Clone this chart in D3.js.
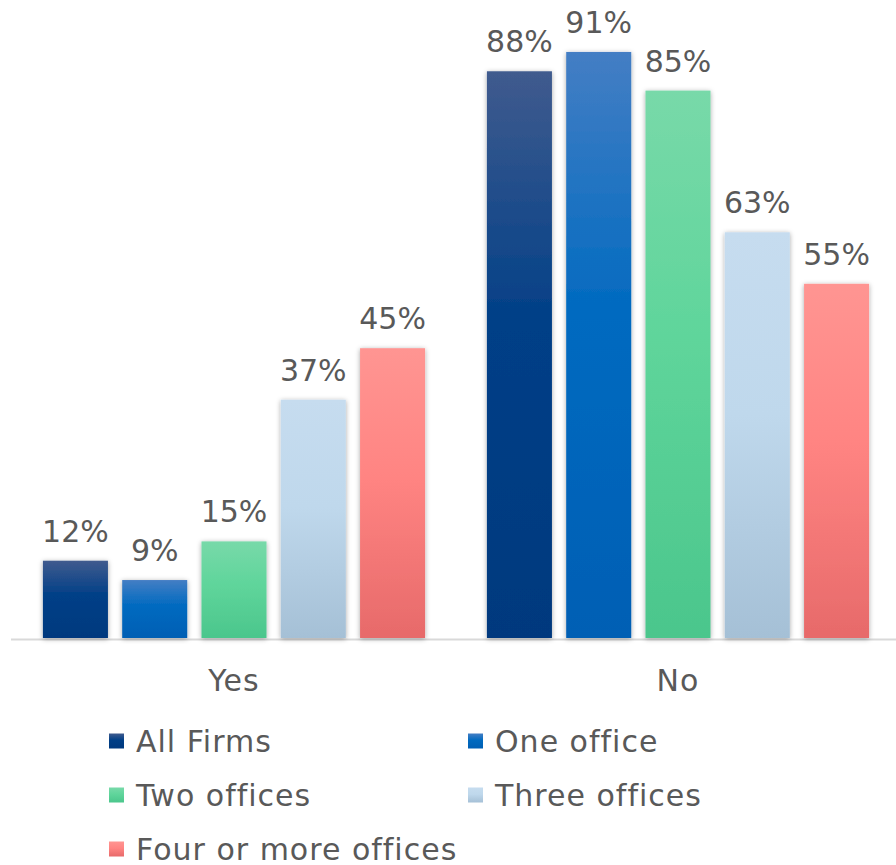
<!DOCTYPE html>
<html>
<head>
<meta charset="utf-8">
<script src="https://cdn.jsdelivr.net/npm/d3@7"></script>
<style>
  body { margin: 0; background: #fff; }
  svg { display: block; font-family: 'DejaVu Sans', sans-serif; }
</style>
</head>
<body>
<svg width="896" height="865"></svg>
<script>
// answers on the x axis, office groups as series
var answers = ['Yes', 'No'];
var series = ['All Firms', 'One office', 'Two offices', 'Three offices', 'Four or more offices'];
var yesValues = [12, 9, 15, 37, 45];
var noValues = [88, 91, 85, 63, 55];

// gradient stops per series: top, middle, bottom
var gradTop = ['#405b8e', '#447ec4', '#78d9a9', '#c6dcef', '#ff9592'];
var gradMid = ['#003f87', '#006ac0', '#5fd59b', '#bfd8ec', '#ff8482'];
var gradBot = ['#00397e', '#005fb4', '#4bc68c', '#a5c0d6', '#e76a6a'];

var svg = d3.select('svg');
var textColor = '#595959';

var rows = answers.map(function (a, i) {
  var vals = i === 0 ? yesValues : noValues;
  return { answer: a, values: series.map(function (s, j) { return { key: s, idx: j, value: vals[j] }; }) };
});

var x0 = d3.scaleBand().domain(answers).range([12, 900]);
var x1 = d3.scaleBand().domain(series).range([0, x0.bandwidth()])
  .paddingInner(0.18).paddingOuter(0.39);
var y = d3.scaleLinear().domain([0, 100]).range([638, -6]);

var defs = svg.append('defs');
var shadow = defs.append('filter').attr('id', 'shadow')
  .attr('x', '-20%').attr('y', '-10%').attr('width', '140%').attr('height', '120%');
shadow.append('feDropShadow').attr('dx', 0).attr('dy', 1).attr('stdDeviation', 2.5)
  .attr('flood-color', '#000').attr('flood-opacity', 0.35);

series.forEach(function (s, i) {
  var g = defs.append('linearGradient').attr('id', 'grad' + i)
    .attr('x1', 0).attr('y1', 0).attr('x2', 0).attr('y2', 1);
  g.append('stop').attr('offset', '0%').attr('stop-color', gradTop[i]);
  g.append('stop').attr('offset', '45%').attr('stop-color', gradMid[i]);
  g.append('stop').attr('offset', '100%').attr('stop-color', gradBot[i]);
});

// baseline
svg.append('line')
  .attr('x1', 11).attr('x2', 896)
  .attr('y1', 639.5).attr('y2', 639.5)
  .attr('stroke', '#d9d9d9').attr('stroke-width', 2);

var groups = svg.selectAll('g.group').data(rows)
  .enter().append('g')
    .attr('class', 'group')
    .attr('transform', function (d) { return 'translate(' + x0(d.answer) + ',0)'; });

groups.selectAll('rect').data(function (d) { return d.values; })
  .enter().append('rect')
    .attr('x', function (d) { return x1(d.key); })
    .attr('y', function (d) { return y(d.value); })
    .attr('width', x1.bandwidth())
    .attr('height', function (d) { return y(0) - y(d.value); })
    .attr('fill', function (d) { return 'url(#grad' + d.idx + ')'; })
    .attr('filter', 'url(#shadow)');

groups.selectAll('text.val').data(function (d) { return d.values; })
  .enter().append('text')
    .attr('class', 'val')
    .attr('x', function (d) { return x1(d.key) + x1.bandwidth() / 2; })
    .attr('y', function (d) { return y(d.value) - 19; })
    .attr('text-anchor', 'middle')
    .attr('font-size', 30)
    .attr('fill', textColor)
    .text(function (d) { return d.value + '%'; });

// category labels
svg.selectAll('text.cat').data(answers)
  .enter().append('text')
    .attr('class', 'cat')
    .attr('x', function (d) { return x0(d) + x0.bandwidth() / 2; })
    .attr('y', 691)
    .attr('text-anchor', 'middle')
    .attr('font-size', 30)
    .attr('letter-spacing', 1)
    .attr('fill', textColor)
    .text(function (d) { return d; });

// legend, two columns
var legend = svg.selectAll('g.legend').data(series)
  .enter().append('g')
    .attr('class', 'legend')
    .attr('transform', function (d, i) {
      return 'translate(' + (i % 2 === 0 ? 109 : 468) + ',' + (741 + Math.floor(i / 2) * 54) + ')';
    });

legend.append('rect')
  .attr('x', 0).attr('y', -7.5)
  .attr('width', 15).attr('height', 15)
  .attr('fill', function (d, i) { return 'url(#grad' + i + ')'; });

legend.append('text')
  .attr('x', 27).attr('y', 11)
  .attr('font-size', 30)
  .attr('letter-spacing', 1)
  .attr('fill', textColor)
  .text(function (d) { return d; });
</script>
</body>
</html>
